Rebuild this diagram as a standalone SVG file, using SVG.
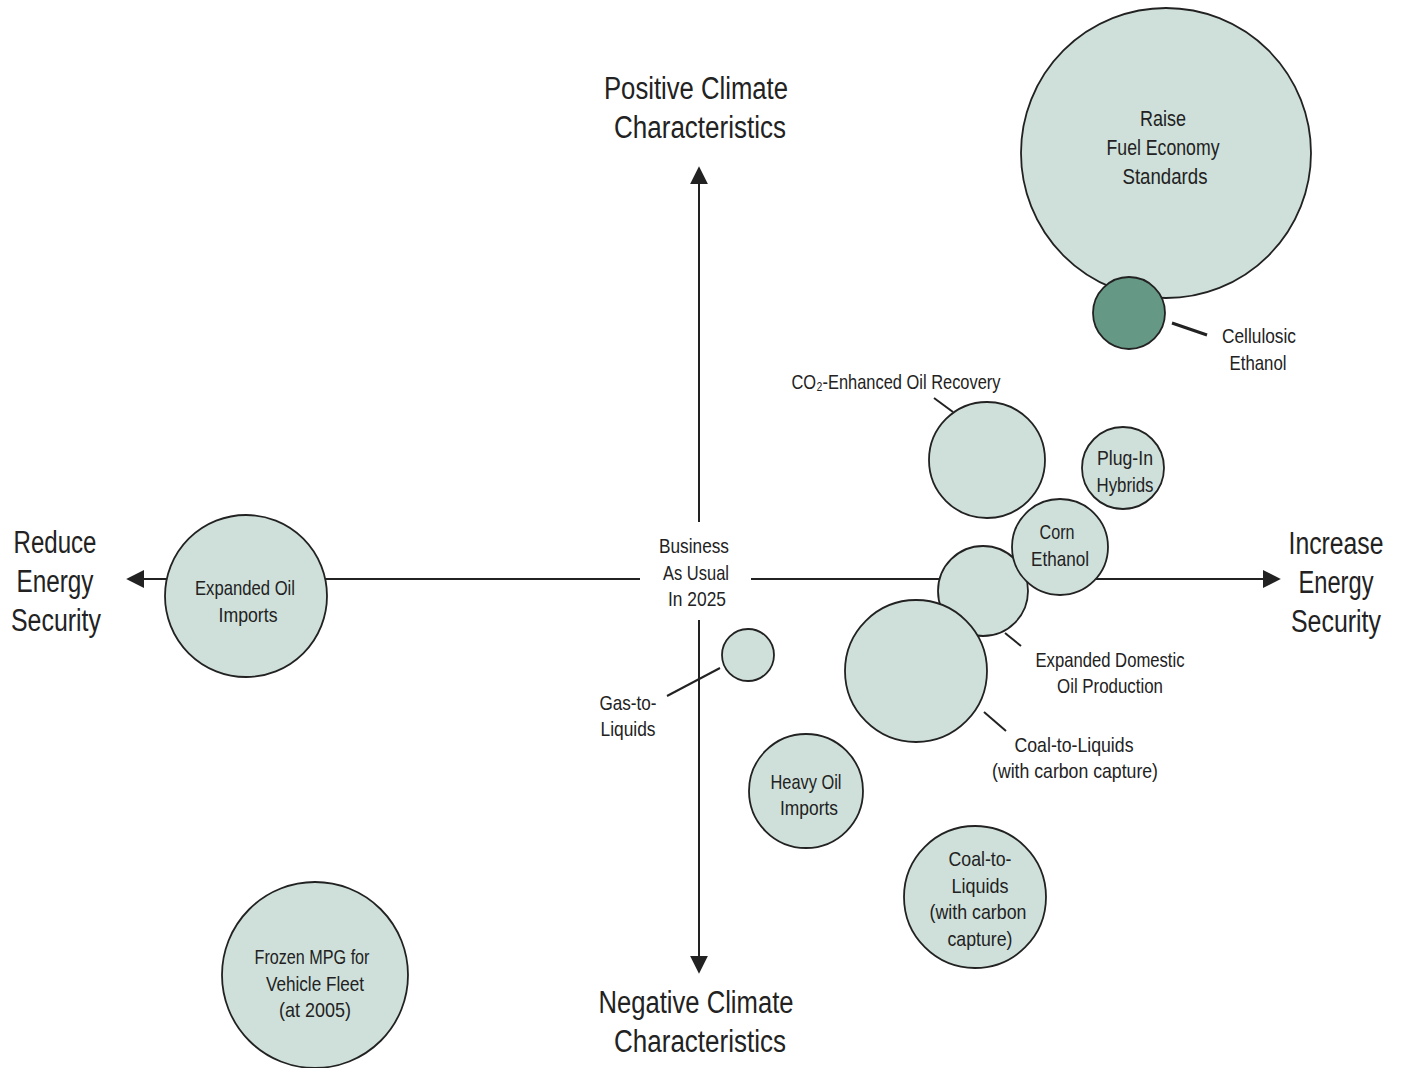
<svg xmlns="http://www.w3.org/2000/svg" width="1402" height="1068" viewBox="0 0 1402 1068">
<defs>
<style>
text{font-family:"Liberation Sans",Arial,sans-serif;fill:#222;text-anchor:middle}
.ax{font-size:31px}
.lb{font-size:21px}
.nd{fill:#cfe0da;stroke:#222;stroke-width:1.8}
.dk{fill:#669985;stroke:#222;stroke-width:1.8}
.ln{stroke:#222;stroke-width:2;fill:none}
</style>
<marker id="ah" viewBox="0 0 10 10" refX="9" refY="5" markerWidth="18" markerHeight="18" markerUnits="userSpaceOnUse" orient="auto"><path d="M0,0L10,5L0,10Z" fill="#222"/></marker>
</defs>
<rect width="1402" height="1068" fill="#fff"/>
<g id="connectors">
<line class="ln" x1="640" y1="579" x2="128" y2="579" marker-end="url(#ah)"/>
<line class="ln" x1="751" y1="579" x2="1279" y2="579" marker-end="url(#ah)"/>
<line class="ln" x1="699" y1="522" x2="699" y2="168" marker-end="url(#ah)"/>
<line class="ln" x1="699" y1="620" x2="699" y2="972" marker-end="url(#ah)"/>
<line class="ln" x1="1172" y1="323" x2="1207" y2="335" style="stroke-width:3"/>
<line class="ln" x1="934" y1="398" x2="953" y2="412"/>
<line class="ln" x1="1005" y1="633" x2="1021" y2="646"/>
<line class="ln" x1="984" y1="712" x2="1006" y2="731"/>
<line class="ln" x1="720" y1="668" x2="667" y2="696"/>
</g>
<g id="axis-labels">
<text class="ax" x="696" y="99" textLength="184" lengthAdjust="spacingAndGlyphs">Positive Climate</text>
<text class="ax" x="700" y="138" textLength="172" lengthAdjust="spacingAndGlyphs">Characteristics</text>
<text class="ax" x="696" y="1013" textLength="195" lengthAdjust="spacingAndGlyphs">Negative Climate</text>
<text class="ax" x="700" y="1052" textLength="172" lengthAdjust="spacingAndGlyphs">Characteristics</text>
<text class="ax" x="55" y="553" textLength="83" lengthAdjust="spacingAndGlyphs">Reduce</text>
<text class="ax" x="55" y="592" textLength="77" lengthAdjust="spacingAndGlyphs">Energy</text>
<text class="ax" x="56" y="631" textLength="90" lengthAdjust="spacingAndGlyphs">Security</text>
<text class="ax" x="1336" y="554" textLength="95" lengthAdjust="spacingAndGlyphs">Increase</text>
<text class="ax" x="1336" y="593" textLength="75" lengthAdjust="spacingAndGlyphs">Energy</text>
<text class="ax" x="1336" y="632" textLength="90" lengthAdjust="spacingAndGlyphs">Security</text>
</g>
<g id="bau">
<text class="lb" x="694" y="553" textLength="70" lengthAdjust="spacingAndGlyphs">Business</text>
<text class="lb" x="696" y="580" textLength="66" lengthAdjust="spacingAndGlyphs">As Usual</text>
<text class="lb" x="697" y="606" textLength="58" lengthAdjust="spacingAndGlyphs">In 2025</text>
</g>
<g id="raise-fuel-economy">
<circle class="nd" cx="1166" cy="153" r="145"/>
<text class="lb" x="1163" y="126" style="font-size:22px" textLength="46" lengthAdjust="spacingAndGlyphs">Raise</text>
<text class="lb" x="1163" y="155" style="font-size:22px" textLength="113" lengthAdjust="spacingAndGlyphs">Fuel Economy</text>
<text class="lb" x="1165" y="184" style="font-size:22px" textLength="85" lengthAdjust="spacingAndGlyphs">Standards</text>
</g>
<g id="cellulosic-ethanol">
<circle class="dk" cx="1129" cy="313" r="36"/>
<text class="lb" x="1259" y="343" textLength="74" lengthAdjust="spacingAndGlyphs">Cellulosic</text>
<text class="lb" x="1258" y="370" textLength="57" lengthAdjust="spacingAndGlyphs">Ethanol</text>
</g>
<g id="co2-eor">
<circle class="nd" cx="987" cy="460" r="58"/>
<text class="lb" x="896" y="389" textLength="209" lengthAdjust="spacingAndGlyphs">CO₂-Enhanced Oil Recovery</text>
</g>
<g id="plug-in-hybrids">
<circle class="nd" cx="1123" cy="468" r="41"/>
<text class="lb" x="1125" y="465" textLength="56" lengthAdjust="spacingAndGlyphs">Plug-In</text>
<text class="lb" x="1125" y="492" textLength="57" lengthAdjust="spacingAndGlyphs">Hybrids</text>
</g>
<g id="expanded-domestic">
<circle class="nd" cx="983" cy="591" r="45"/>
<text class="lb" x="1110" y="667" textLength="149" lengthAdjust="spacingAndGlyphs">Expanded Domestic</text>
<text class="lb" x="1110" y="693" textLength="106" lengthAdjust="spacingAndGlyphs">Oil Production</text>
</g>
<g id="corn-ethanol">
<circle class="nd" cx="1060" cy="547" r="48"/>
<text class="lb" x="1057" y="539" textLength="35" lengthAdjust="spacingAndGlyphs">Corn</text>
<text class="lb" x="1060" y="566" textLength="58" lengthAdjust="spacingAndGlyphs">Ethanol</text>
</g>
<g id="coal-to-liquids-ccs">
<circle class="nd" cx="916" cy="671" r="71"/>
<text class="lb" x="1074" y="752" textLength="119" lengthAdjust="spacingAndGlyphs">Coal-to-Liquids</text>
<text class="lb" x="1075" y="778" textLength="166" lengthAdjust="spacingAndGlyphs">(with carbon capture)</text>
</g>
<g id="gas-to-liquids">
<circle class="nd" cx="748" cy="655" r="26"/>
<text class="lb" x="628" y="710" textLength="57" lengthAdjust="spacingAndGlyphs">Gas-to-</text>
<text class="lb" x="628" y="736" textLength="55" lengthAdjust="spacingAndGlyphs">Liquids</text>
</g>
<g id="heavy-oil-imports">
<circle class="nd" cx="806" cy="791" r="57"/>
<text class="lb" x="806" y="789" textLength="71" lengthAdjust="spacingAndGlyphs">Heavy Oil</text>
<text class="lb" x="809" y="815" textLength="58" lengthAdjust="spacingAndGlyphs">Imports</text>
</g>
<g id="coal-to-liquids">
<circle class="nd" cx="975" cy="897" r="71"/>
<text class="lb" x="980" y="866" textLength="63" lengthAdjust="spacingAndGlyphs">Coal-to-</text>
<text class="lb" x="980" y="893" textLength="57" lengthAdjust="spacingAndGlyphs">Liquids</text>
<text class="lb" x="978" y="919" textLength="97" lengthAdjust="spacingAndGlyphs">(with carbon</text>
<text class="lb" x="980" y="946" textLength="65" lengthAdjust="spacingAndGlyphs">capture)</text>
</g>
<g id="expanded-oil-imports">
<circle class="nd" cx="246" cy="596" r="81"/>
<text class="lb" x="245" y="595" textLength="100" lengthAdjust="spacingAndGlyphs">Expanded Oil</text>
<text class="lb" x="248" y="622" textLength="59" lengthAdjust="spacingAndGlyphs">Imports</text>
</g>
<g id="frozen-mpg">
<circle class="nd" cx="315" cy="975" r="93"/>
<text class="lb" x="312" y="964" textLength="115" lengthAdjust="spacingAndGlyphs">Frozen MPG for</text>
<text class="lb" x="315" y="991" textLength="98" lengthAdjust="spacingAndGlyphs">Vehicle Fleet</text>
<text class="lb" x="315" y="1017" textLength="72" lengthAdjust="spacingAndGlyphs">(at 2005)</text>
</g>
</svg>
